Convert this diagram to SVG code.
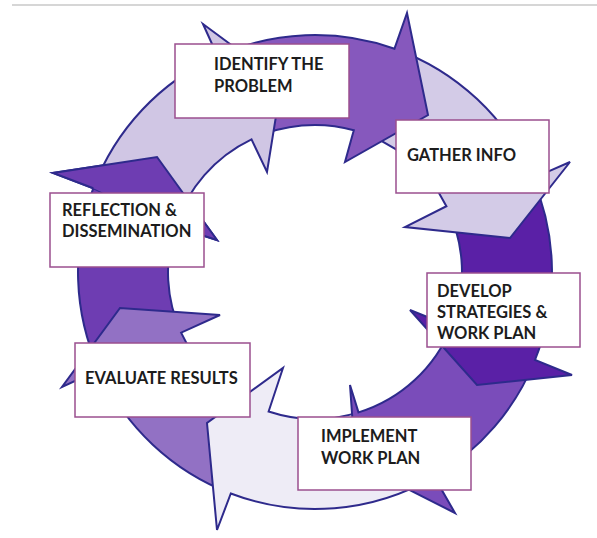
<svg xmlns="http://www.w3.org/2000/svg" width="597" height="538" viewBox="0 0 597 538">
<style>
.seg{stroke:#2e2a8c;stroke-width:2;stroke-linejoin:miter}
.box{fill:#fff;stroke:#9b4f8f;stroke-width:1.5}
.lbl{font-family:Lato,"Liberation Sans",sans-serif;font-weight:bold;font-size:16.5px;fill:#1c1c1c}
</style>
<rect width="597" height="538" fill="#fff"/>
<line x1="12" y1="5" x2="597" y2="5" stroke="#c8c8c8" stroke-width="1.5"/>
<g id="connectors">
<path id="arrow-h" class="seg" fill="#6e3db2" d="M99.2,369.9 A237,237 0 0 1 93.3,188.2 L53,173 L157,157 L217,240 L175.2,226.6 A147,147 0 0 0 181.1,332.7 Z"/>
<path id="arrow-g" class="seg" fill="#9271c4" d="M230.8,493.5 A237,237 0 0 1 99.2,369.9 L62,387 L120,308 L220,315 L181.1,332.7 A147,147 0 0 0 268.6,411.5 Z"/>
<path id="arrow-f" class="seg" fill="#eeecf6" d="M434.2,476.8 A237,237 0 0 1 230.8,493.5 L217,530 L207,423 L283,368 L268.6,411.5 A147,147 0 0 0 358.5,412.4 Z"/>
<path id="arrow-e" class="seg" fill="#7a4cba" d="M535,360 A237,237 0 0 1 434.2,476.8 L455,513 L355.5,462.7 L350,385 L358.5,412.4 A147,147 0 0 0 451.5,326.6 Z"/>
<path id="arrow-d" class="seg" fill="#5a20a6" d="M532.7,178.3 A237,237 0 0 1 535,360 L572,375 L477,385 L410,310 L451.5,326.6 A147,147 0 0 0 446.4,206.2 Z"/>
<path id="arrow-c" class="seg" fill="#d3cbe7" d="M394.5,48.7 A237,237 0 0 1 532.7,178.3 L570,162 L510,238 L405,227 L446.4,206.2 A147,147 0 0 0 353.8,130.2 Z"/>
<path id="arrow-b" class="seg" fill="#8658bd" d="M217.5,56 A237,237 0 0 1 394.5,48.7 L407,13 L428,115 L345,162 L353.8,130.2 A147,147 0 0 0 251.5,139.4 Z"/>
<path id="arrow-a" class="seg" fill="#d0c6e4" d="M93.3,188.2 A237,237 0 0 1 217.5,56 L203,24 L281.5,82 L267,172 L251.5,139.4 A147,147 0 0 0 175.2,226.6 Z"/>
<path id="arrow-h-head" fill="#6e3db2" d="M93.3,188.2 L53,173 L157,157 L217,240 L175.2,226.6 Z"/>
<path class="seg" fill="none" d="M93.3,188.2 L53,173 L157,157 L217,240 L175.2,226.6"/>
</g>
<g id="identify">
<rect class="box" x="175" y="44" width="174" height="74"/>
<text class="lbl" x="214" y="70">IDENTIFY THE</text>
<text class="lbl" x="214" y="92">PROBLEM</text>
</g>
<g id="gather">
<rect class="box" x="396" y="120" width="153" height="73"/>
<text class="lbl" x="407" y="161">GATHER INFO</text>
</g>
<g id="develop">
<rect class="box" x="427" y="273" width="153" height="74"/>
<text class="lbl" x="437" y="297">DEVELOP</text>
<text class="lbl" x="437" y="318">STRATEGIES &amp;</text>
<text class="lbl" x="437" y="339">WORK PLAN</text>
</g>
<g id="implement">
<rect class="box" x="298" y="417" width="173" height="73"/>
<text class="lbl" x="321" y="442">IMPLEMENT</text>
<text class="lbl" x="321" y="464">WORK PLAN</text>
</g>
<g id="evaluate">
<rect class="box" x="75" y="343" width="175" height="74"/>
<text class="lbl" x="85" y="384">EVALUATE RESULTS</text>
</g>
<g id="reflection">
<rect class="box" x="50" y="193" width="154" height="74"/>
<text class="lbl" x="62" y="216">REFLECTION &amp;</text>
<text class="lbl" x="62" y="237">DISSEMINATION</text>
</g>
</svg>
